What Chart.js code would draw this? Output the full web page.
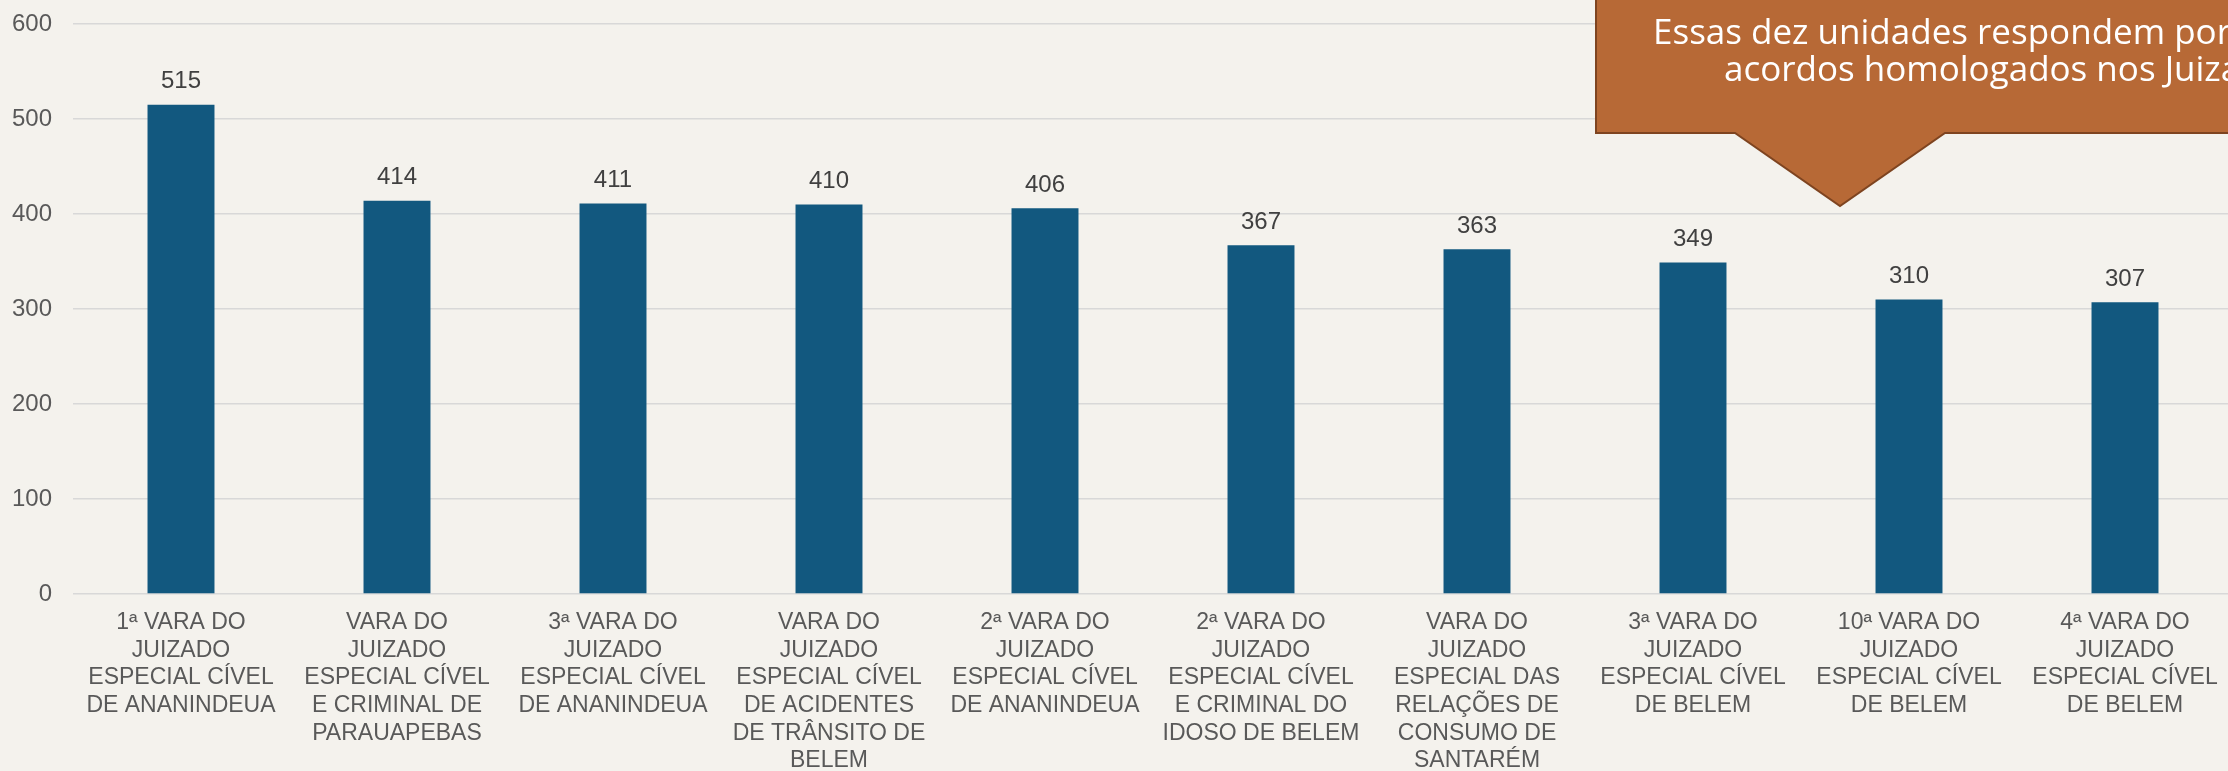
<!DOCTYPE html>
<html>
<head>
<meta charset="utf-8">
<script src="https://cdn.jsdelivr.net/npm/chart.js@4.4.1/dist/chart.umd.min.js"></script>
<style>
  html, body { margin: 0; padding: 0; overflow: hidden; background: #F4F2ED; }
  #wrap { position: relative; width: 2240px; height: 771px; }
</style>
</head>
<body>
<div id="wrap"><canvas id="c"></canvas></div>
<script>
const categories = [
  ["1ª VARA DO", "JUIZADO", "ESPECIAL CÍVEL", "DE ANANINDEUA"],
  ["VARA DO", "JUIZADO", "ESPECIAL CÍVEL", "E CRIMINAL DE", "PARAUAPEBAS"],
  ["3ª VARA DO", "JUIZADO", "ESPECIAL CÍVEL", "DE ANANINDEUA"],
  ["VARA DO", "JUIZADO", "ESPECIAL CÍVEL", "DE ACIDENTES", "DE TRÂNSITO DE", "BELEM"],
  ["2ª VARA DO", "JUIZADO", "ESPECIAL CÍVEL", "DE ANANINDEUA"],
  ["2ª VARA DO", "JUIZADO", "ESPECIAL CÍVEL", "E CRIMINAL DO", "IDOSO DE BELEM"],
  ["VARA DO", "JUIZADO", "ESPECIAL DAS", "RELAÇÕES DE", "CONSUMO DE", "SANTARÉM"],
  ["3ª VARA DO", "JUIZADO", "ESPECIAL CÍVEL", "DE BELEM"],
  ["10ª VARA DO", "JUIZADO", "ESPECIAL CÍVEL", "DE BELEM"],
  ["4ª VARA DO", "JUIZADO", "ESPECIAL CÍVEL", "DE BELEM"]
];
const values = [515, 414, 411, 410, 406, 367, 363, 349, 310, 307];
const yMin = 0;
const yMax = 600;
const yStep = 100;
const calloutLines = ["Essas dez unidades respondem por", "acordos homologados nos Juizados"];

const valueLabels = {
  id: 'valueLabels',
  afterDatasetsDraw(chart) {
    const ctx = chart.ctx;
    const meta = chart.getDatasetMeta(0);
    ctx.save();
    ctx.font = '24px "Liberation Sans", Arial, sans-serif';
    ctx.fillStyle = '#404040';
    ctx.textAlign = 'center';
    ctx.textBaseline = 'middle';
    meta.data.forEach((bar, i) => {
      ctx.fillText(String(chart.data.datasets[0].data[i]), bar.x, bar.y - 23);
    });
    ctx.restore();
  }
};

const callout = {
  id: 'callout',
  afterDraw(chart) {
    const ctx = chart.ctx;
    ctx.save();
    ctx.beginPath();
    ctx.moveTo(1596, -5);
    ctx.lineTo(1596, 133);
    ctx.lineTo(1735, 133);
    ctx.lineTo(1840, 206);
    ctx.lineTo(1945, 133);
    ctx.lineTo(2260, 133);
    ctx.lineTo(2260, -5);
    ctx.closePath();
    ctx.fillStyle = '#B76936';
    ctx.fill();
    ctx.lineWidth = 2;
    ctx.strokeStyle = '#7E4420';
    ctx.stroke();
    ctx.fillStyle = '#FFFFFF';
    ctx.font = '35px "Open Sans", "Noto Sans", sans-serif';
    ctx.textAlign = 'left';
    ctx.textBaseline = 'alphabetic';
    ctx.fillText(calloutLines[0], 1653, 44);
    ctx.fillText(calloutLines[1], 1724, 81);
    ctx.restore();
  }
};

new Chart(document.getElementById('c'), {
  type: 'bar',
  data: {
    labels: categories,
    datasets: [{
      data: values,
      backgroundColor: '#12587F',
      borderWidth: 0,
      barPercentage: 0.31,
      categoryPercentage: 1.0
    }]
  },
  options: {
    responsive: true,
    maintainAspectRatio: false,
    animation: false,
    events: [],
    layout: { padding: { top: 24, right: 7, left: 0, bottom: 0 } },
    plugins: {
      legend: { display: false },
      tooltip: { enabled: false },
      title: { display: false }
    },
    scales: {
      x: {
        afterFit(scale) { scale.height = 177; },
        grid: { display: false, drawTicks: false },
        border: { display: false },
        ticks: {
          color: '#595959',
          font: { family: '"Liberation Sans", Arial, sans-serif', size: 23, lineHeight: 1.2 },
          padding: 15,
          maxRotation: 0,
          autoSkip: false
        }
      },
      y: {
        min: yMin,
        max: yMax,
        afterFit(scale) { scale.width = 73; scale.paddingTop = 0; scale.paddingBottom = 0; },
        grid: { color: '#D8D8D8', lineWidth: 1.5, drawTicks: false },
        border: { display: false },
        ticks: {
          stepSize: yStep,
          color: '#595959',
          font: { family: '"Liberation Sans", Arial, sans-serif', size: 24 },
          padding: 21
        }
      }
    }
  },
  plugins: [valueLabels, callout]
});
</script>
</body>
</html>
